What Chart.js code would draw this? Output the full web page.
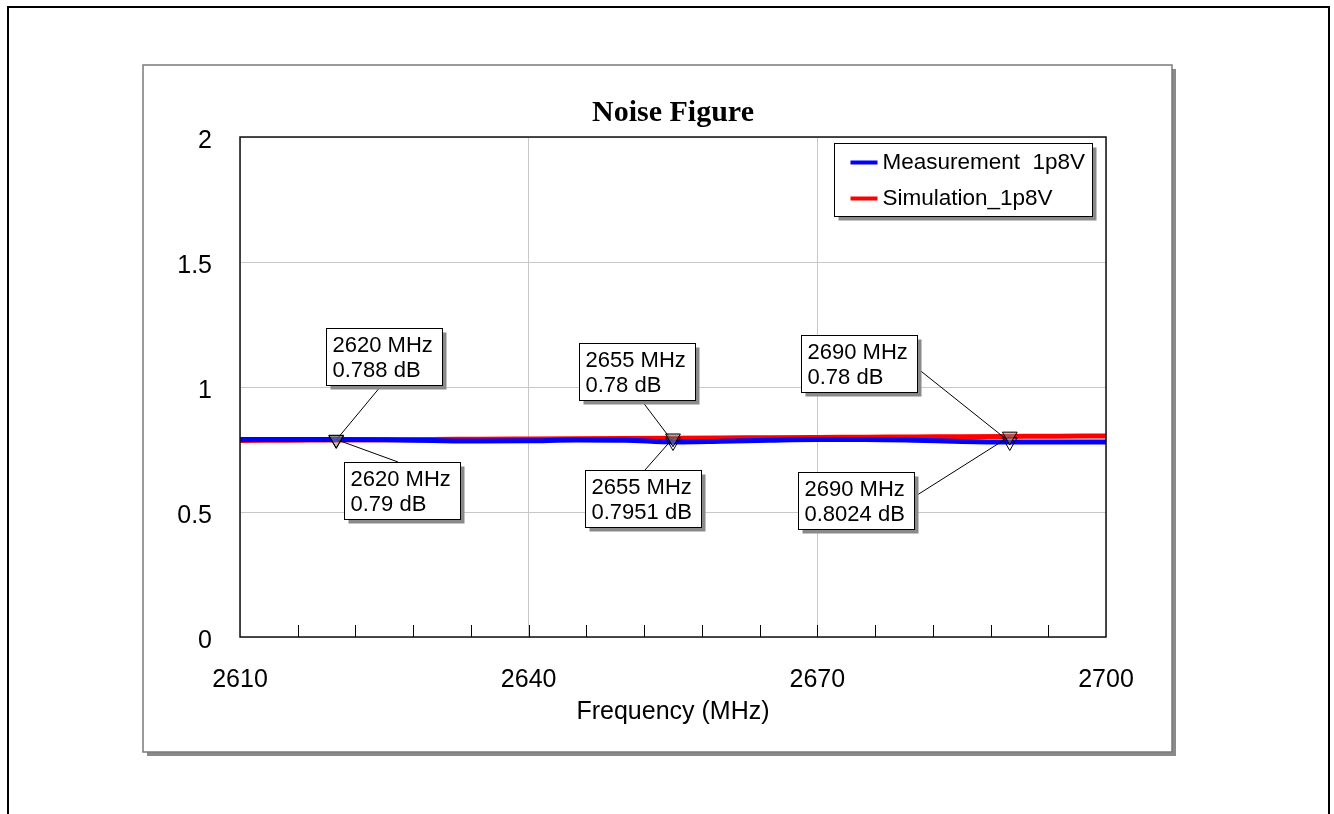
<!DOCTYPE html>
<html>
<head>
<meta charset="utf-8">
<title>Noise Figure</title>
<script src="https://cdn.jsdelivr.net/npm/chart.js@4/dist/chart.umd.min.js"></script>
<style>
  html, body { margin: 0; padding: 0; background: #fff; }
  #wrap { width: 1334px; height: 814px; }
</style>
</head>
<body>
<div id="wrap"><canvas id="nfChart" width="1334" height="814"></canvas></div>
<script>
// Datos (MHz / dB)
const freqs = [2610, 2615, 2620, 2625, 2630, 2635, 2640, 2645, 2650, 2655,
               2660, 2665, 2670, 2675, 2680, 2685, 2690, 2695, 2700];
const measurement = [0.79, 0.79, 0.79, 0.789, 0.786, 0.784, 0.785, 0.788, 0.787, 0.78,
                     0.783, 0.787, 0.79, 0.79, 0.787, 0.782, 0.78, 0.78, 0.78];
const simulation = [0.786, 0.787, 0.788, 0.789, 0.79, 0.7911, 0.7921, 0.7931, 0.7941, 0.7951,
                    0.7961, 0.7972, 0.7982, 0.7993, 0.8003, 0.8014, 0.8024, 0.8034, 0.8045];
const markerFreqs = [2620, 2655, 2690];
const xTicks = [2610, 2640, 2670, 2700];
const yTicks = [0, 0.5, 1, 1.5, 2];
const minorStep = 6;

const FONT = "'Liberation Sans', Arial, sans-serif";

// Cajas de marcadores: desplazamiento respecto al punto y punto de enganche de la línea guía
const markerBoxes = [
  { freq: 2620, ds: 1, dx: -10, dy: -112, ax: 55, ay: 58 },
  { freq: 2620, ds: 0, dx: 8, dy: 22, ax: 54, ay: 0 },
  { freq: 2655, ds: 0, dx: -94, dy: -99, ax: 63, ay: 58 },
  { freq: 2655, ds: 1, dx: -88, dy: 32, ax: 60, ay: 0 },
  { freq: 2690, ds: 0, dx: -209, dy: -107, ax: 116, ay: 33 },
  { freq: 2690, ds: 1, dx: -212, dy: 36, ax: 116, ay: 25 },
];

/**
 * Fondo: borde exterior y marco con sombra
 */
const framePlugin = {
  id: 'frame',
  beforeDraw(chart) {
    const ctx = chart.ctx;
    ctx.save();
    ctx.fillStyle = '#fff';
    ctx.fillRect(0, 0, chart.width, chart.height);
    ctx.strokeStyle = '#000';
    ctx.lineWidth = 2;
    ctx.strokeRect(8, 7, 1321, 830);
    // marco del gráfico
    ctx.fillStyle = '#8a8a8a';
    ctx.fillRect(147, 69, 1029, 687);
    ctx.fillStyle = '#fff';
    ctx.fillRect(143, 65, 1029, 687);
    ctx.strokeStyle = '#7a7a7a';
    ctx.lineWidth = 1.5;
    ctx.strokeRect(143, 65, 1029, 687);
    ctx.restore();
  },
  beforeDatasetsDraw(chart) {
    const { ctx, chartArea: a, scales } = chart;
    const xs = scales.x;
    ctx.save();
    // ticks menores hacia dentro
    ctx.strokeStyle = '#000';
    ctx.lineWidth = 1;
    for (let v = xs.min + minorStep; v < xs.max; v += minorStep) {
      const px = Math.round(xs.getPixelForValue(v)) + 0.5;
      ctx.beginPath();
      ctx.moveTo(px, a.bottom);
      ctx.lineTo(px, a.bottom - 12);
      ctx.stroke();
    }
    ctx.restore();
  },
  afterDatasetsDraw(chart) {
    const { ctx, chartArea: a } = chart;
    ctx.save();
    ctx.strokeStyle = '#111';
    ctx.lineWidth = 1.5;
    ctx.strokeRect(a.left, a.top, a.right - a.left, a.bottom - a.top);
    ctx.restore();
  },
};

/**
 * Marcadores (triángulos) con sus etiquetas
 */
const markerPlugin = {
  id: 'markers',
  afterDraw(chart) {
    const { ctx, scales } = chart;
    const boxW = 116, boxH = 57;
    ctx.save();
    const anchors = markerBoxes.map((m) => {
      const data = chart.data.datasets[m.ds].data;
      const pt = data.find((d) => d.x === m.freq);
      return { m, pt, x: scales.x.getPixelForValue(pt.x), y: scales.y.getPixelForValue(pt.y) };
    });

    // líneas guía
    ctx.strokeStyle = '#000';
    ctx.lineWidth = 1;
    for (const { m, x, y } of anchors) {
      const bx = Math.round(x + m.dx), by = Math.round(y + m.dy);
      ctx.beginPath();
      ctx.moveTo(bx + m.ax, by + m.ay);
      ctx.lineTo(x, y);
      ctx.stroke();
    }

    // triángulos invertidos
    for (const { m, x, y } of anchors) {
      const r = 8.5;
      ctx.beginPath();
      ctx.moveTo(x - r * 0.866, y - r / 2);
      ctx.lineTo(x + r * 0.866, y - r / 2);
      ctx.lineTo(x, y + r);
      ctx.closePath();
      ctx.fillStyle = m.ds === 1 ? 'rgba(140,140,140,0.55)' : 'rgba(255,255,255,0)';
      ctx.fill();
      ctx.strokeStyle = '#000';
      ctx.stroke();
    }

    // cajas de texto
    ctx.font = `22px ${FONT}`;
    ctx.textBaseline = 'middle';
    ctx.textAlign = 'left';
    for (const { m, pt, x, y } of anchors) {
      const bx = Math.round(x + m.dx) + 0.5, by = Math.round(y + m.dy) + 0.5;
      ctx.fillStyle = '#8a8a8a';
      ctx.fillRect(bx + 4, by + 4, boxW, boxH);
      ctx.fillStyle = '#fff';
      ctx.fillRect(bx, by, boxW, boxH);
      ctx.strokeStyle = '#000';
      ctx.strokeRect(bx, by, boxW, boxH);
      ctx.fillStyle = '#000';
      ctx.fillText(`${pt.x} MHz`, bx + 6, by + 17);
      ctx.fillText(`${pt.y} dB`, bx + 6, by + 42);
    }
    ctx.restore();
  },
};

/**
 * Leyenda dentro del área de trazado
 */
const legendPlugin = {
  id: 'boxLegend',
  afterDraw(chart) {
    const ctx = chart.ctx;
    const lx = 834.5, ly = 143.5, lw = 258, lh = 73;
    ctx.save();
    ctx.fillStyle = '#8a8a8a';
    ctx.fillRect(lx + 4, ly + 4, lw, lh);
    ctx.fillStyle = '#fff';
    ctx.fillRect(lx, ly, lw, lh);
    ctx.strokeStyle = '#000';
    ctx.lineWidth = 1;
    ctx.strokeRect(lx, ly, lw, lh);
    ctx.font = `22.5px ${FONT}`;
    ctx.textBaseline = 'middle';
    chart.data.datasets.forEach((ds, i) => {
      const yy = ly + 19 + i * 36;
      ctx.strokeStyle = ds.borderColor;
      ctx.lineWidth = 4;
      ctx.beginPath();
      ctx.moveTo(lx + 16, yy);
      ctx.lineTo(lx + 43, yy);
      ctx.stroke();
      ctx.fillStyle = '#000';
      ctx.fillText(ds.label, lx + 48, yy);
    });
    ctx.restore();
  },
};

function toPoints(values) {
  return freqs.map((f, i) => ({ x: f, y: values[i] }));
}

document.addEventListener('DOMContentLoaded', () => {
  const ctx = document.getElementById('nfChart').getContext('2d');
  new Chart(ctx, {
    type: 'line',
    data: {
      datasets: [
        {
          label: 'Measurement  1p8V',
          data: toPoints(measurement),
          borderColor: '#0000ff',
          borderWidth: 5,
          pointRadius: 0,
          cubicInterpolationMode: 'monotone',
          fill: false,
        },
        {
          label: 'Simulation_1p8V',
          data: toPoints(simulation),
          borderColor: '#ff0000',
          borderWidth: 5,
          pointRadius: 0,
          cubicInterpolationMode: 'monotone',
          fill: false,
        },
      ],
    },
    options: {
      responsive: false,
      animation: false,
      devicePixelRatio: 1,
      layout: { padding: { left: 150, right: 228, top: 0, bottom: 87 } },
      plugins: {
        legend: { display: false },
        tooltip: { enabled: false },
        title: {
          display: true,
          fullSize: false,
          text: 'Noise Figure',
          color: '#000',
          font: { family: "'Liberation Serif', 'Times New Roman', serif", size: 30, weight: 'bold' },
          padding: { top: 95, bottom: 6 },
        },
      },
      scales: {
        x: {
          type: 'linear',
          min: xTicks[0],
          max: xTicks[xTicks.length - 1],
          afterBuildTicks: (scale) => { scale.ticks = xTicks.map((v) => ({ value: v })); },
          afterFit: (scale) => { scale.height = 90; },
          grid: { color: '#c8c8c8', lineWidth: 1, drawTicks: false },
          border: { display: false },
          ticks: {
            color: '#000',
            font: { family: FONT, size: 25 },
            padding: 28,
            maxRotation: 0,
            callback: (v) => String(v),
          },
          title: {
            display: true,
            text: 'Frequency (MHz)',
            color: '#000',
            font: { family: FONT, size: 25 },
            padding: 0,
          },
        },
        y: {
          type: 'linear',
          min: yTicks[0],
          max: yTicks[yTicks.length - 1],
          afterBuildTicks: (scale) => { scale.ticks = yTicks.map((v) => ({ value: v })); },
          afterFit: (scale) => { scale.width = 90; },
          grid: { color: '#c8c8c8', lineWidth: 1, drawTicks: false },
          border: { display: false },
          ticks: {
            color: '#000',
            font: { family: FONT, size: 25 },
            padding: 28,
            labelOffset: 4,
            callback: (v) => String(v),
          },
        },
      },
    },
    plugins: [framePlugin, markerPlugin, legendPlugin],
  });
});
</script>
</body>
</html>
